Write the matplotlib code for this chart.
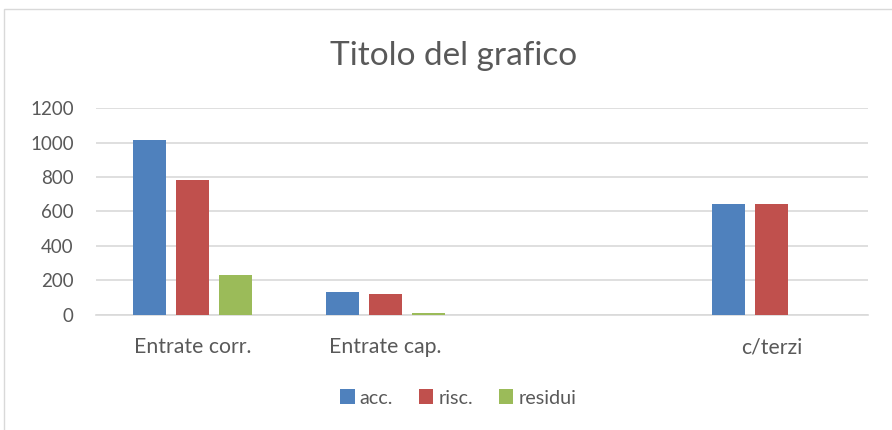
import matplotlib
matplotlib.use("Agg")
import matplotlib.pyplot as plt
import numpy as np
from matplotlib.patches import Rectangle

categories = ["Entrate corr.", "Entrate cap.", "", "c/terzi"]
series_names = ["acc.", "risc.", "residui"]
acc = [1015, 130, 0, 642]
risc = [780, 122, 0, 642]
residui = [231, 6, 0, 0]
yticks = [0, 200, 400, 600, 800, 1000, 1200]

colors = ["#4F81BD", "#C0504D", "#9BBB59"]
text_color = "#595959"
font = ["Lato", "DejaVu Sans"]

W, H = 892, 430
fig = plt.figure(figsize=(W / 100, H / 100), dpi=100)
fig.patch.set_facecolor("white")

# outer chart border
fig.patches.append(Rectangle((4 / W, -0.1), 1.2, 1 - 9 / H + 0.1, transform=fig.transFigure,
                             fill=False, edgecolor="#D9D9D9", linewidth=1.0))

left, right = 96 / W, 868 / W
bottom, top = 1 - 314.5 / H, 1 - 108.3 / H
ax = fig.add_axes([left, bottom, right - left, top - bottom])

x = np.arange(len(categories))
bw = 0.171
step = 0.223
for i, (name, vals) in enumerate(zip(series_names, [acc, risc, residui])):
    ax.bar(x + (i - 1) * step, vals, width=bw, color=colors[i], label=name, zorder=3)

ax.set_xlim(-0.5, len(categories) - 0.5)
ax.set_ylim(0, 1200)
ax.set_yticks(yticks)
ax.set_yticklabels([str(t) for t in yticks], fontsize=13.5, color=text_color, family=font)
ax.set_xticks(x)
ax.set_xticklabels(categories, fontsize=15.3, color=text_color, family=font)
ax.tick_params(axis="both", length=0)
ax.tick_params(axis="y", pad=16)
ax.tick_params(axis="x", pad=16.5)
ax.grid(axis="y", color="#D9D9D9", linewidth=1.2, zorder=0)
for s in ["top", "right", "left"]:
    ax.spines[s].set_visible(False)
ax.spines["bottom"].set_color("#D9D9D9")
ax.spines["bottom"].set_linewidth(1.2)

fig.text(454 / W, 1 - 56 / H, "Titolo del grafico", ha="center", va="center",
         fontsize=24, color=text_color, family=font)

leg = fig.legend(loc="center", bbox_to_anchor=(458 / W, 1 - 398 / H), ncol=3, frameon=False,
                 prop={"family": font, "size": 14.2}, handlelength=0.75, handleheight=0.75,
                 handletextpad=0.25, columnspacing=1.3, labelcolor=text_color)

fig.savefig("out.png", dpi=100, facecolor="white")
